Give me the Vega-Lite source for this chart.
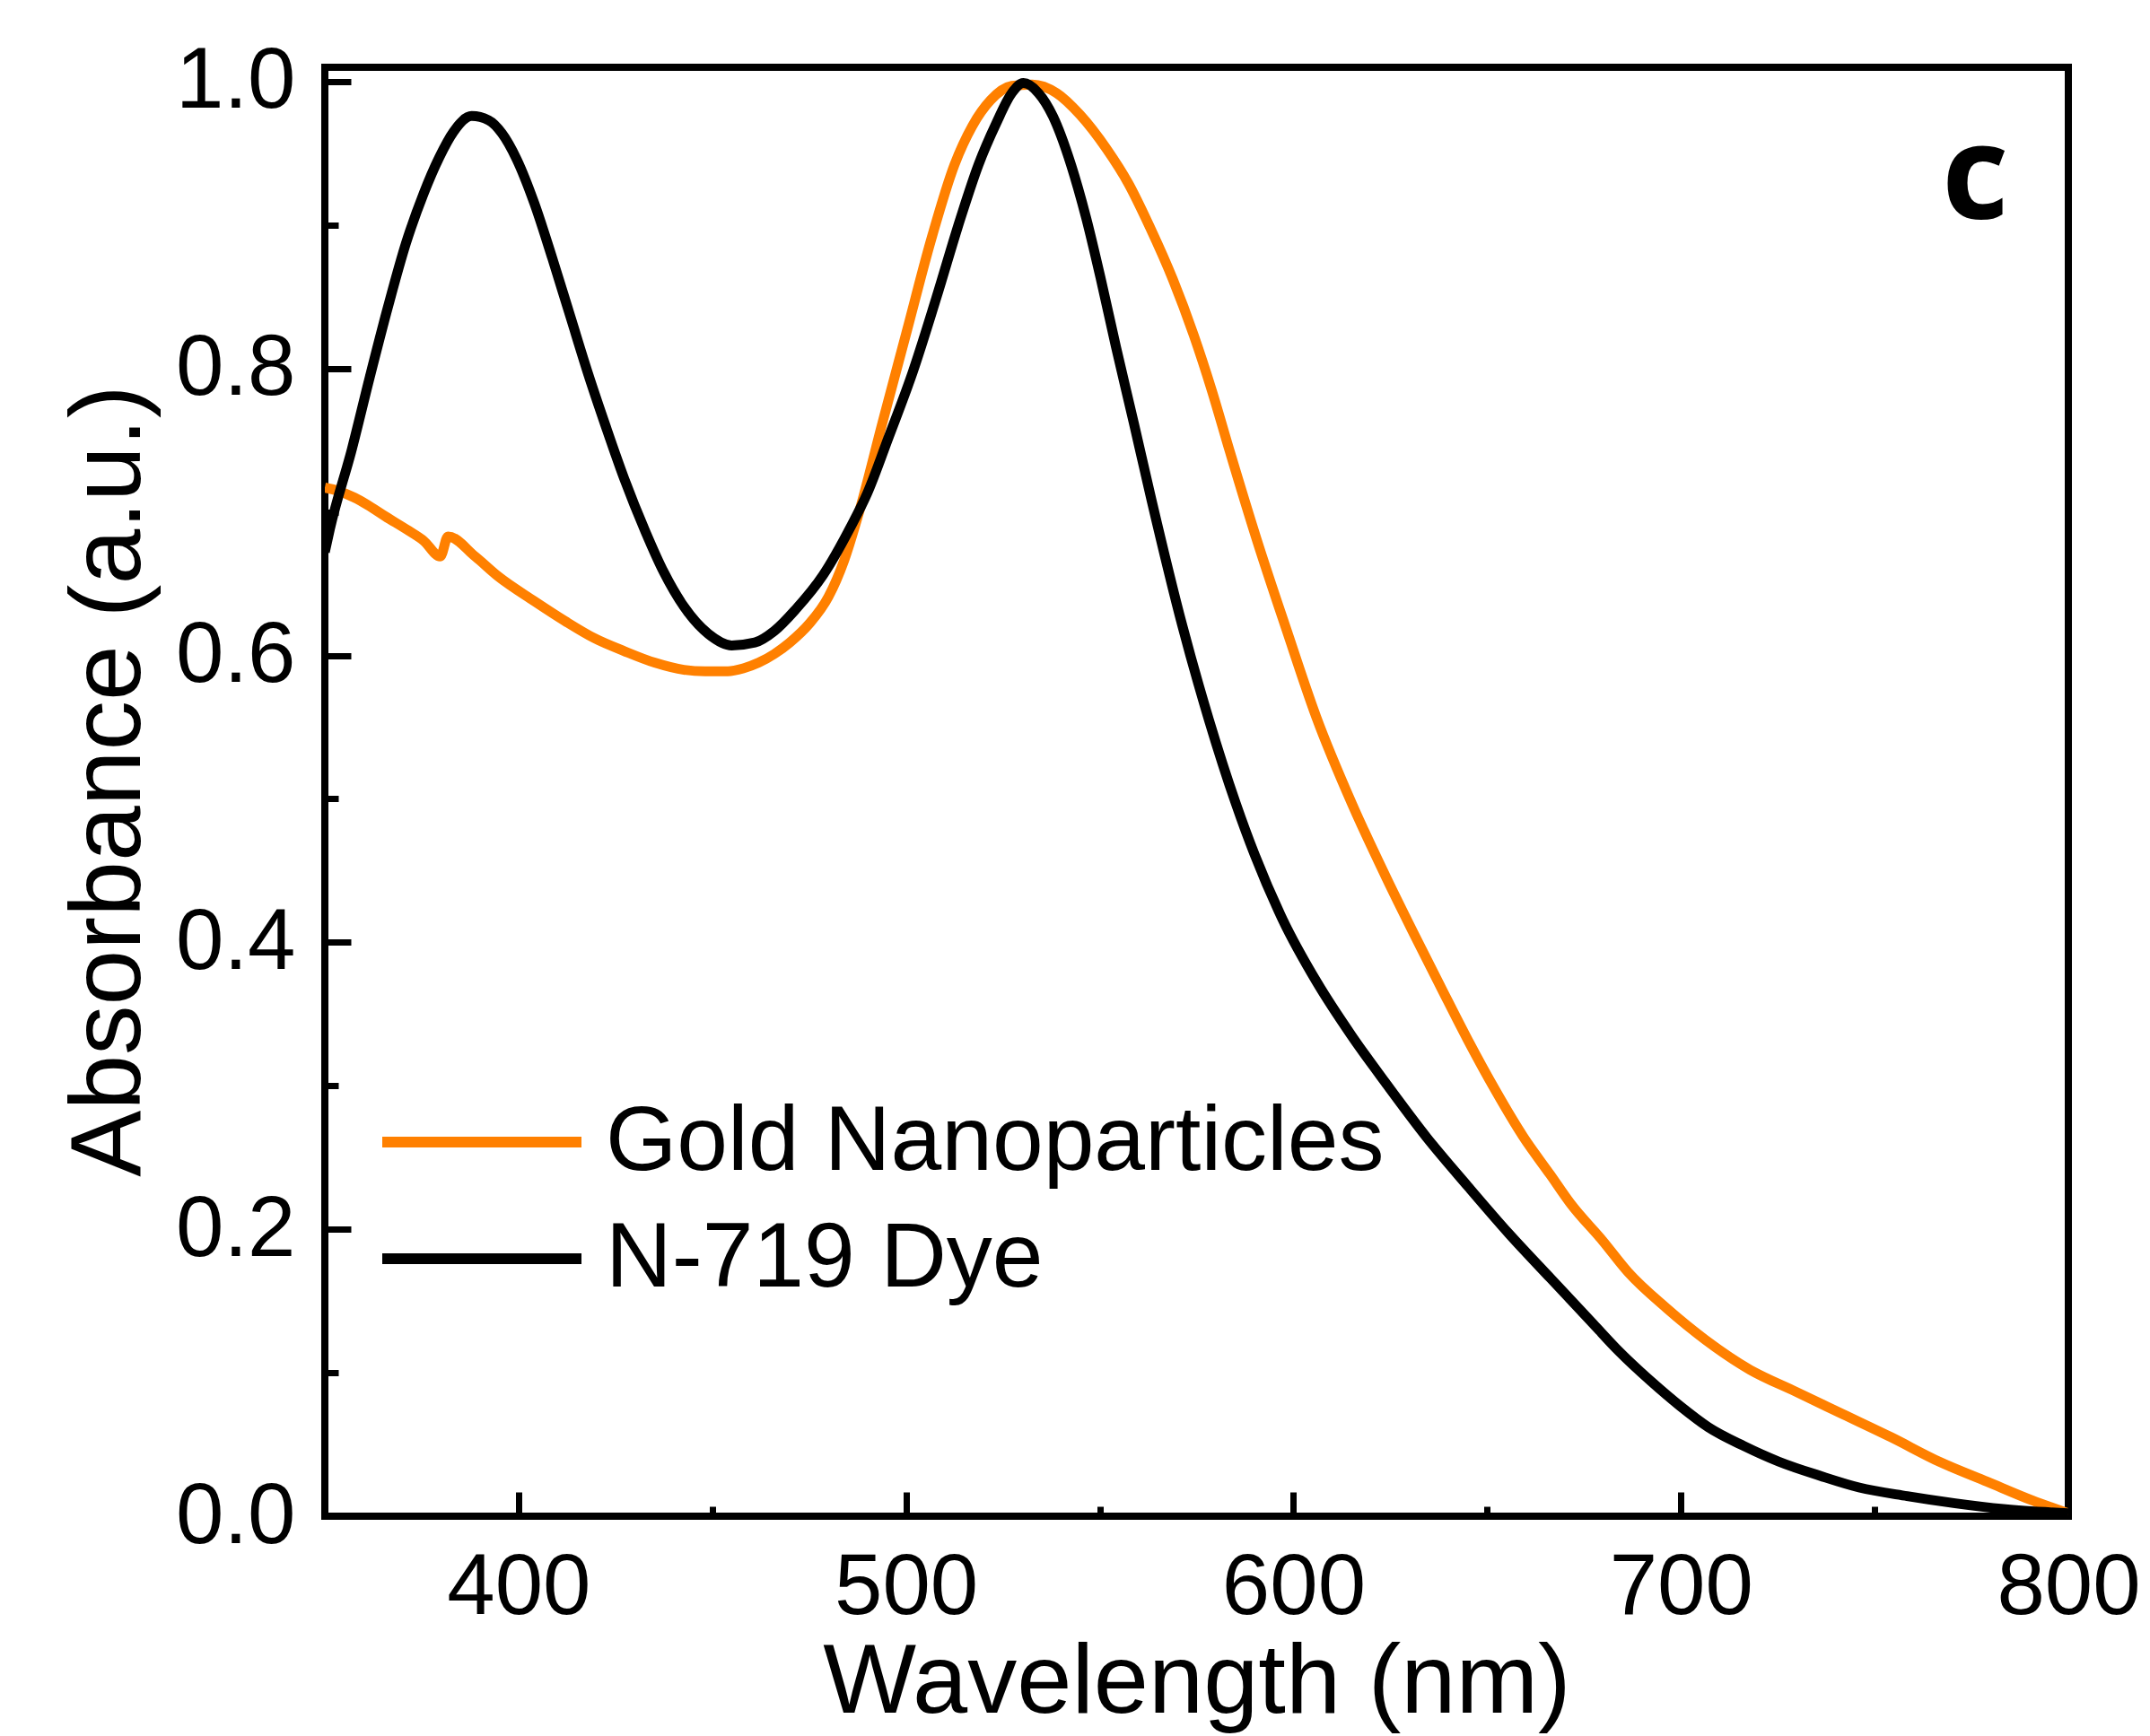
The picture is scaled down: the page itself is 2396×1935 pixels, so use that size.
{
  "$schema": "https://vega.github.io/schema/vega-lite/v6.json",
  "width": 1943,
  "height": 1615,
  "autosize": {"type": "none"},
  "padding": {"left": 362, "top": 75, "right": 91, "bottom": 245},
  "background": "white",
  "datasets": {
    "spectra": [
      {"sample": "Gold Nanoparticles", "wavelength": 350, "absorbance": 0.717},
      {"sample": "Gold Nanoparticles", "wavelength": 353.1, "absorbance": 0.715},
      {"sample": "Gold Nanoparticles", "wavelength": 357.7, "absorbance": 0.71},
      {"sample": "Gold Nanoparticles", "wavelength": 361, "absorbance": 0.705},
      {"sample": "Gold Nanoparticles", "wavelength": 365.6, "absorbance": 0.697},
      {"sample": "Gold Nanoparticles", "wavelength": 371.6, "absorbance": 0.687},
      {"sample": "Gold Nanoparticles", "wavelength": 375.5, "absorbance": 0.68},
      {"sample": "Gold Nanoparticles", "wavelength": 379.8, "absorbance": 0.669},
      {"sample": "Gold Nanoparticles", "wavelength": 381.8, "absorbance": 0.683},
      {"sample": "Gold Nanoparticles", "wavelength": 388.8, "absorbance": 0.669},
      {"sample": "Gold Nanoparticles", "wavelength": 394.8, "absorbance": 0.655},
      {"sample": "Gold Nanoparticles", "wavelength": 404, "absorbance": 0.638},
      {"sample": "Gold Nanoparticles", "wavelength": 412, "absorbance": 0.624},
      {"sample": "Gold Nanoparticles", "wavelength": 419.6, "absorbance": 0.612},
      {"sample": "Gold Nanoparticles", "wavelength": 427.3, "absorbance": 0.603},
      {"sample": "Gold Nanoparticles", "wavelength": 435.1, "absorbance": 0.595},
      {"sample": "Gold Nanoparticles", "wavelength": 442.7, "absorbance": 0.59},
      {"sample": "Gold Nanoparticles", "wavelength": 448.1, "absorbance": 0.589},
      {"sample": "Gold Nanoparticles", "wavelength": 454, "absorbance": 0.589},
      {"sample": "Gold Nanoparticles", "wavelength": 458, "absorbance": 0.591},
      {"sample": "Gold Nanoparticles", "wavelength": 462, "absorbance": 0.595},
      {"sample": "Gold Nanoparticles", "wavelength": 466, "absorbance": 0.601},
      {"sample": "Gold Nanoparticles", "wavelength": 470, "absorbance": 0.609},
      {"sample": "Gold Nanoparticles", "wavelength": 475, "absorbance": 0.622},
      {"sample": "Gold Nanoparticles", "wavelength": 480, "absorbance": 0.641},
      {"sample": "Gold Nanoparticles", "wavelength": 484, "absorbance": 0.666},
      {"sample": "Gold Nanoparticles", "wavelength": 487.9, "absorbance": 0.7},
      {"sample": "Gold Nanoparticles", "wavelength": 494, "absorbance": 0.763},
      {"sample": "Gold Nanoparticles", "wavelength": 500.2, "absorbance": 0.826},
      {"sample": "Gold Nanoparticles", "wavelength": 506.5, "absorbance": 0.89},
      {"sample": "Gold Nanoparticles", "wavelength": 512.5, "absorbance": 0.942},
      {"sample": "Gold Nanoparticles", "wavelength": 517.1, "absorbance": 0.969},
      {"sample": "Gold Nanoparticles", "wavelength": 521.8, "absorbance": 0.987},
      {"sample": "Gold Nanoparticles", "wavelength": 527.3, "absorbance": 0.997},
      {"sample": "Gold Nanoparticles", "wavelength": 532.6, "absorbance": 0.998},
      {"sample": "Gold Nanoparticles", "wavelength": 538.9, "absorbance": 0.992},
      {"sample": "Gold Nanoparticles", "wavelength": 544.9, "absorbance": 0.977},
      {"sample": "Gold Nanoparticles", "wavelength": 551.8, "absorbance": 0.953},
      {"sample": "Gold Nanoparticles", "wavelength": 557.4, "absorbance": 0.929},
      {"sample": "Gold Nanoparticles", "wavelength": 562.7, "absorbance": 0.9},
      {"sample": "Gold Nanoparticles", "wavelength": 568.9, "absorbance": 0.862},
      {"sample": "Gold Nanoparticles", "wavelength": 574.3, "absorbance": 0.823},
      {"sample": "Gold Nanoparticles", "wavelength": 578.9, "absorbance": 0.785},
      {"sample": "Gold Nanoparticles", "wavelength": 583.6, "absorbance": 0.742},
      {"sample": "Gold Nanoparticles", "wavelength": 590.5, "absorbance": 0.681},
      {"sample": "Gold Nanoparticles", "wavelength": 598.2, "absorbance": 0.618},
      {"sample": "Gold Nanoparticles", "wavelength": 605.9, "absorbance": 0.557},
      {"sample": "Gold Nanoparticles", "wavelength": 615.2, "absorbance": 0.496},
      {"sample": "Gold Nanoparticles", "wavelength": 623.8, "absorbance": 0.446},
      {"sample": "Gold Nanoparticles", "wavelength": 630.9, "absorbance": 0.407},
      {"sample": "Gold Nanoparticles", "wavelength": 638, "absorbance": 0.369},
      {"sample": "Gold Nanoparticles", "wavelength": 645, "absorbance": 0.332},
      {"sample": "Gold Nanoparticles", "wavelength": 652.1, "absorbance": 0.297},
      {"sample": "Gold Nanoparticles", "wavelength": 659.2, "absorbance": 0.265},
      {"sample": "Gold Nanoparticles", "wavelength": 666.3, "absorbance": 0.238},
      {"sample": "Gold Nanoparticles", "wavelength": 671.5, "absorbance": 0.218},
      {"sample": "Gold Nanoparticles", "wavelength": 679.8, "absorbance": 0.192},
      {"sample": "Gold Nanoparticles", "wavelength": 686.4, "absorbance": 0.17},
      {"sample": "Gold Nanoparticles", "wavelength": 696.3, "absorbance": 0.145},
      {"sample": "Gold Nanoparticles", "wavelength": 706.3, "absorbance": 0.123},
      {"sample": "Gold Nanoparticles", "wavelength": 717.9, "absorbance": 0.102},
      {"sample": "Gold Nanoparticles", "wavelength": 729.5, "absorbance": 0.087},
      {"sample": "Gold Nanoparticles", "wavelength": 741.9, "absorbance": 0.071},
      {"sample": "Gold Nanoparticles", "wavelength": 754.3, "absorbance": 0.055},
      {"sample": "Gold Nanoparticles", "wavelength": 766.7, "absorbance": 0.038},
      {"sample": "Gold Nanoparticles", "wavelength": 779.1, "absorbance": 0.024},
      {"sample": "Gold Nanoparticles", "wavelength": 790.7, "absorbance": 0.011},
      {"sample": "Gold Nanoparticles", "wavelength": 800, "absorbance": 0.002},
      {"sample": "N-719 Dye", "wavelength": 350, "absorbance": 0.672},
      {"sample": "N-719 Dye", "wavelength": 351.3, "absorbance": 0.688},
      {"sample": "N-719 Dye", "wavelength": 357, "absorbance": 0.744},
      {"sample": "N-719 Dye", "wavelength": 361.6, "absorbance": 0.794},
      {"sample": "N-719 Dye", "wavelength": 366.3, "absorbance": 0.843},
      {"sample": "N-719 Dye", "wavelength": 370.9, "absorbance": 0.887},
      {"sample": "N-719 Dye", "wavelength": 375.5, "absorbance": 0.922},
      {"sample": "N-719 Dye", "wavelength": 379.5, "absorbance": 0.947},
      {"sample": "N-719 Dye", "wavelength": 383.2, "absorbance": 0.965},
      {"sample": "N-719 Dye", "wavelength": 387.9, "absorbance": 0.976},
      {"sample": "N-719 Dye", "wavelength": 392.3, "absorbance": 0.973},
      {"sample": "N-719 Dye", "wavelength": 395.7, "absorbance": 0.964},
      {"sample": "N-719 Dye", "wavelength": 399.5, "absorbance": 0.946},
      {"sample": "N-719 Dye", "wavelength": 404.1, "absorbance": 0.915},
      {"sample": "N-719 Dye", "wavelength": 408.7, "absorbance": 0.877},
      {"sample": "N-719 Dye", "wavelength": 413.4, "absorbance": 0.836},
      {"sample": "N-719 Dye", "wavelength": 418, "absorbance": 0.796},
      {"sample": "N-719 Dye", "wavelength": 422.6, "absorbance": 0.759},
      {"sample": "N-719 Dye", "wavelength": 427.3, "absorbance": 0.723},
      {"sample": "N-719 Dye", "wavelength": 432.8, "absorbance": 0.686},
      {"sample": "N-719 Dye", "wavelength": 437.5, "absorbance": 0.658},
      {"sample": "N-719 Dye", "wavelength": 442.7, "absorbance": 0.634},
      {"sample": "N-719 Dye", "wavelength": 449, "absorbance": 0.615},
      {"sample": "N-719 Dye", "wavelength": 455, "absorbance": 0.607},
      {"sample": "N-719 Dye", "wavelength": 461, "absorbance": 0.609},
      {"sample": "N-719 Dye", "wavelength": 466, "absorbance": 0.617},
      {"sample": "N-719 Dye", "wavelength": 471.5, "absorbance": 0.632},
      {"sample": "N-719 Dye", "wavelength": 478.6, "absorbance": 0.656},
      {"sample": "N-719 Dye", "wavelength": 485.6, "absorbance": 0.689},
      {"sample": "N-719 Dye", "wavelength": 490, "absorbance": 0.713},
      {"sample": "N-719 Dye", "wavelength": 495.5, "absorbance": 0.752},
      {"sample": "N-719 Dye", "wavelength": 501.8, "absorbance": 0.798},
      {"sample": "N-719 Dye", "wavelength": 507.8, "absorbance": 0.849},
      {"sample": "N-719 Dye", "wavelength": 514.1, "absorbance": 0.905},
      {"sample": "N-719 Dye", "wavelength": 518.7, "absorbance": 0.942},
      {"sample": "N-719 Dye", "wavelength": 523.3, "absorbance": 0.971},
      {"sample": "N-719 Dye", "wavelength": 527.3, "absorbance": 0.992},
      {"sample": "N-719 Dye", "wavelength": 530.3, "absorbance": 0.999},
      {"sample": "N-719 Dye", "wavelength": 534.2, "absorbance": 0.992},
      {"sample": "N-719 Dye", "wavelength": 537.9, "absorbance": 0.976},
      {"sample": "N-719 Dye", "wavelength": 542.6, "absorbance": 0.942},
      {"sample": "N-719 Dye", "wavelength": 546.5, "absorbance": 0.905},
      {"sample": "N-719 Dye", "wavelength": 550.4, "absorbance": 0.861},
      {"sample": "N-719 Dye", "wavelength": 554.2, "absorbance": 0.815},
      {"sample": "N-719 Dye", "wavelength": 558.8, "absorbance": 0.762},
      {"sample": "N-719 Dye", "wavelength": 563.4, "absorbance": 0.708},
      {"sample": "N-719 Dye", "wavelength": 571.3, "absorbance": 0.621},
      {"sample": "N-719 Dye", "wavelength": 578.2, "absorbance": 0.555},
      {"sample": "N-719 Dye", "wavelength": 585.1, "absorbance": 0.497},
      {"sample": "N-719 Dye", "wavelength": 590, "absorbance": 0.461},
      {"sample": "N-719 Dye", "wavelength": 597.2, "absorbance": 0.416},
      {"sample": "N-719 Dye", "wavelength": 606.1, "absorbance": 0.372},
      {"sample": "N-719 Dye", "wavelength": 615, "absorbance": 0.335},
      {"sample": "N-719 Dye", "wavelength": 623.8, "absorbance": 0.302},
      {"sample": "N-719 Dye", "wavelength": 634.4, "absorbance": 0.264},
      {"sample": "N-719 Dye", "wavelength": 645, "absorbance": 0.23},
      {"sample": "N-719 Dye", "wavelength": 655.6, "absorbance": 0.197},
      {"sample": "N-719 Dye", "wavelength": 666.3, "absorbance": 0.166},
      {"sample": "N-719 Dye", "wavelength": 671.5, "absorbance": 0.151},
      {"sample": "N-719 Dye", "wavelength": 677.4, "absorbance": 0.134},
      {"sample": "N-719 Dye", "wavelength": 684, "absorbance": 0.115},
      {"sample": "N-719 Dye", "wavelength": 692.3, "absorbance": 0.094},
      {"sample": "N-719 Dye", "wavelength": 699.7, "absorbance": 0.077},
      {"sample": "N-719 Dye", "wavelength": 707.1, "absorbance": 0.062},
      {"sample": "N-719 Dye", "wavelength": 716.2, "absorbance": 0.049},
      {"sample": "N-719 Dye", "wavelength": 725.3, "absorbance": 0.038},
      {"sample": "N-719 Dye", "wavelength": 736.1, "absorbance": 0.028},
      {"sample": "N-719 Dye", "wavelength": 746, "absorbance": 0.02},
      {"sample": "N-719 Dye", "wavelength": 758.4, "absorbance": 0.014},
      {"sample": "N-719 Dye", "wavelength": 770.8, "absorbance": 0.009},
      {"sample": "N-719 Dye", "wavelength": 783.2, "absorbance": 0.005},
      {"sample": "N-719 Dye", "wavelength": 800, "absorbance": 0.002}
    ],
    "panel": [
      {"label": "c", "wavelength": 784.6, "absorbance": 0.904}
    ]
  },
  "layer": [
    {
      "data": {"name": "spectra"},
      "mark": {"type": "line", "strokeWidth": 11, "interpolate": "monotone", "clip": true, "strokeCap": "butt", "strokeJoin": "round"},
      "encoding": {
        "x": {
          "field": "wavelength",
          "type": "quantitative",
          "scale": {"domain": [350, 800], "nice": false, "zero": false},
          "axis": {
            "values": [400, 450, 500, 550, 600, 650, 700, 750, 800],
            "labelExpr": "datum.value % 100 == 0 ? datum.label : ''",
            "tickSize": {"condition": {"test": "datum.value % 100 == 0", "value": -27}, "value": -11},
            "tickWidth": 7,
            "tickColor": "#000",
            "domain": false,
            "grid": false,
            "labelFlush": false,
            "labelOverlap": false,
            "labelFont": "Liberation Sans",
            "labelFontSize": 96,
            "labelColor": "#000",
            "labelPadding": 59,
            "title": "Wavelength (nm)",
            "titleFont": "Liberation Sans",
            "titleFontSize": 110,
            "titleFontWeight": "normal",
            "titleColor": "#000",
            "titleBaseline": "alphabetic",
            "titleY": 218
          }
        },
        "y": {
          "field": "absorbance",
          "type": "quantitative",
          "scale": {"domain": [0, 1.01], "nice": false, "zero": false},
          "axis": {
            "values": [0, 0.1, 0.2, 0.3, 0.4, 0.5, 0.6, 0.7, 0.8, 0.9, 1.0],
            "labelExpr": "round(datum.value * 10) % 2 == 0 ? format(datum.value, '.1f') : ''",
            "tickSize": {"condition": {"test": "round(datum.value * 10) % 2 == 0", "value": -29}, "value": -15},
            "tickWidth": 7,
            "tickColor": "#000",
            "domain": false,
            "grid": false,
            "labelFlush": false,
            "labelOverlap": false,
            "labelFont": "Liberation Sans",
            "labelFontSize": 96,
            "labelColor": "#000",
            "labelPadding": 62,
            "title": "Absorbance (a.u.)",
            "titleFont": "Liberation Sans",
            "titleFontSize": 111,
            "titleFontWeight": "normal",
            "titleColor": "#000",
            "titleBaseline": "alphabetic",
            "titleAlign": "center",
            "titleAngle": -90,
            "titleX": -207,
            "titleY": 795
          }
        },
        "color": {
          "field": "sample",
          "type": "nominal",
          "scale": {"domain": ["Gold Nanoparticles", "N-719 Dye"], "range": ["#ff8000", "#000000"]},
          "legend": {
            "orient": "none",
            "legendX": 58,
            "legendY": 1133,
            "title": null,
            "symbolType": "stroke",
            "symbolSize": 49284,
            "symbolStrokeWidth": 12,
            "symbolOpacity": 1,
            "labelFont": "Liberation Sans",
            "labelFontSize": 102,
            "labelColor": "#000",
            "labelOffset": 21,
            "labelLimit": 3000,
            "clipHeight": 130,
            "rowPadding": 0,
            "padding": 0,
            "offset": 0
          }
        }
      }
    },
    {
      "data": {"name": "panel"},
      "mark": {"type": "text", "font": "Open Sans", "fontSize": 145, "fontWeight": "bold", "color": "#000", "align": "right", "baseline": "alphabetic"},
      "encoding": {
        "x": {"field": "wavelength", "type": "quantitative"},
        "y": {"field": "absorbance", "type": "quantitative"},
        "text": {"field": "label"}
      }
    }
  ],
  "config": {
    "view": {"stroke": "#000", "strokeWidth": 8}
  }
}
